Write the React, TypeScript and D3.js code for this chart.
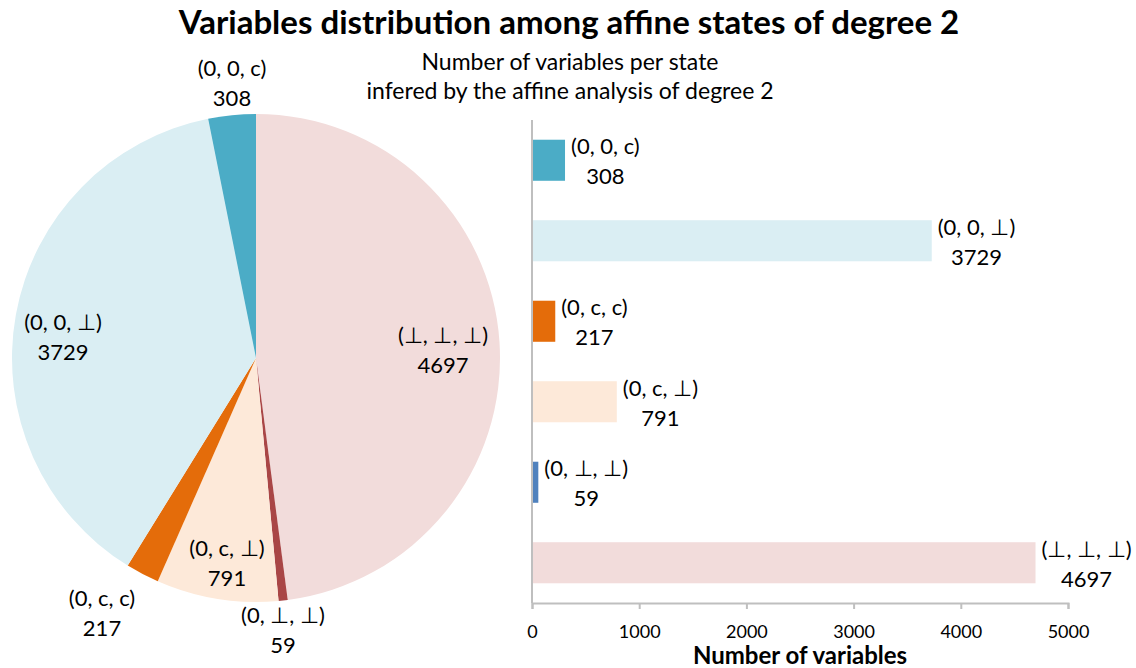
import React, { useRef, useEffect } from "react";
import * as d3 from "d3";

// states as listed in the bar chart (top to bottom)
const states = ["(0, 0, c)", "(0, 0, ⊥)", "(0, c, c)", "(0, c, ⊥)", "(0, ⊥, ⊥)", "(⊥, ⊥, ⊥)"];
const counts = [308, 3729, 217, 791, 59, 4697];
const barColors = ["#4BACC6", "#DAEEF3", "#E46C0A", "#FDE9D9", "#4F81BD", "#F2DCDB"];
const pieColors = ["#4BACC6", "#DAEEF3", "#E46C0A", "#FDE9D9", "#A94646", "#F2DCDB"];
const xTicks = [0, 1000, 2000, 3000, 4000, 5000];

const title = "Variables distribution among affine states of degree 2";
const subtitle = ["Number of variables per state", "infered by the affine analysis of degree 2"];
const xAxisTitle = "Number of variables";

// label anchors of the pie, one per state (same order)
const pieLabelPos = [
  [232, 68],
  [63, 322],
  [102, 598],
  [227, 548],
  [283, 615],
  [443, 335],
];

const App = () => {
  const ref = useRef<HTMLDivElement>(null);

  useEffect(() => {
    document.body.style.margin = "0";
    const width = 1136;
    const height = 668;
    const font = "Lato, 'Open Sans', sans-serif";

    d3.select(ref.current).selectAll("*").remove();
    const svg = d3
      .select(ref.current)
      .append("svg")
      .attr("width", width)
      .attr("height", height)
      .style("display", "block")
      .style("font-family", font);

    svg
      .append("text")
      .attr("x", 569)
      .attr("y", 34)
      .attr("text-anchor", "middle")
      .style("font-size", "33px")
      .style("font-weight", "bold")
      .text(title);

    svg
      .selectAll(".subtitle")
      .data(subtitle)
      .enter()
      .append("text")
      .attr("class", "subtitle")
      .attr("x", 570)
      .attr("y", (d, i) => 70 + i * 29)
      .attr("text-anchor", "middle")
      .style("font-size", "23px")
      .text((d) => d);

    // ---------- pie ----------
    const data = states.map((s, i) => ({ state: s, value: counts[i], i }));
    const pie = d3
      .pie<any>()
      .value((d) => d.value)
      .sort(null);
    const arcs = pie(data.slice().reverse());
    const arc = d3.arc<any>().innerRadius(0).outerRadius(244);

    const pieG = svg.append("g").attr("transform", "translate(256, 358)");
    pieG
      .selectAll("path")
      .data(arcs)
      .enter()
      .append("path")
      .attr("d", arc)
      .attr("fill", (d) => pieColors[d.data.i]);

    data.forEach((d) => {
      const [lx, ly] = pieLabelPos[d.i];
      const t = svg
        .append("text")
        .attr("text-anchor", "middle")
        .style("font-size", "22px");
      t.append("tspan").attr("x", lx).attr("y", ly + 8).text(d.state);
      t.append("tspan").attr("x", lx).attr("y", ly + 38).text(d.value);
    });

    // ---------- bars ----------
    const x0 = 532;
    const x1 = 1068;
    const yTop = 120;
    const yBottom = 603;
    const xScale = d3.scaleLinear().domain([0, 5000]).range([x0, x1]);
    const yScale = d3
      .scaleBand()
      .domain(states)
      .range([yTop, yBottom])
      .paddingInner(0.49)
      .paddingOuter(0.245);

    svg
      .selectAll(".bar")
      .data(data)
      .enter()
      .append("rect")
      .attr("class", "bar")
      .attr("x", x0)
      .attr("y", (d) => yScale(d.state)!)
      .attr("width", (d) => xScale(d.value) - x0)
      .attr("height", yScale.bandwidth())
      .attr("fill", (d) => barColors[d.i]);

    const xAxis = d3
      .axisBottom(xScale)
      .tickValues(xTicks)
      .tickSize(6)
      .tickSizeOuter(6)
      .tickFormat((d) => String(d));
    const axisG = svg.append("g").attr("transform", `translate(0, ${yBottom})`).call(xAxis);
    axisG.select(".domain").attr("stroke", "#bfbfbf").attr("stroke-width", 2);
    axisG.selectAll(".tick line").attr("stroke", "#bfbfbf").attr("stroke-width", 2);
    axisG
      .selectAll(".tick text")
      .attr("y", 22)
      .style("font-size", "18px")
      .style("font-family", font)
      .attr("fill", "#000");

    svg
      .append("line")
      .attr("x1", x0)
      .attr("x2", x0)
      .attr("y1", yTop)
      .attr("y2", yBottom)
      .attr("stroke", "#bfbfbf")
      .attr("stroke-width", 2);

    svg
      .append("text")
      .attr("x", 800)
      .attr("y", 664)
      .attr("text-anchor", "middle")
      .style("font-size", "24px")
      .style("font-weight", "bold")
      .text(xAxisTitle);

    data.forEach((d) => {
      const cy = yScale(d.state)! + yScale.bandwidth() / 2;
      const t = svg
        .append("text")
        .attr("text-anchor", "middle")
        .style("font-size", "22px");
      const l1 = t.append("tspan").attr("y", cy - 6).text(d.state);
      const l2 = t.append("tspan").attr("y", cy + 24).text(d.value);
      const w = (l1.node() as SVGTSpanElement).getComputedTextLength();
      const cx = xScale(d.value) + 6 + w / 2;
      l1.attr("x", cx);
      l2.attr("x", cx);
    });
  }, []);

  return <div ref={ref}></div>;
};

export default App;
